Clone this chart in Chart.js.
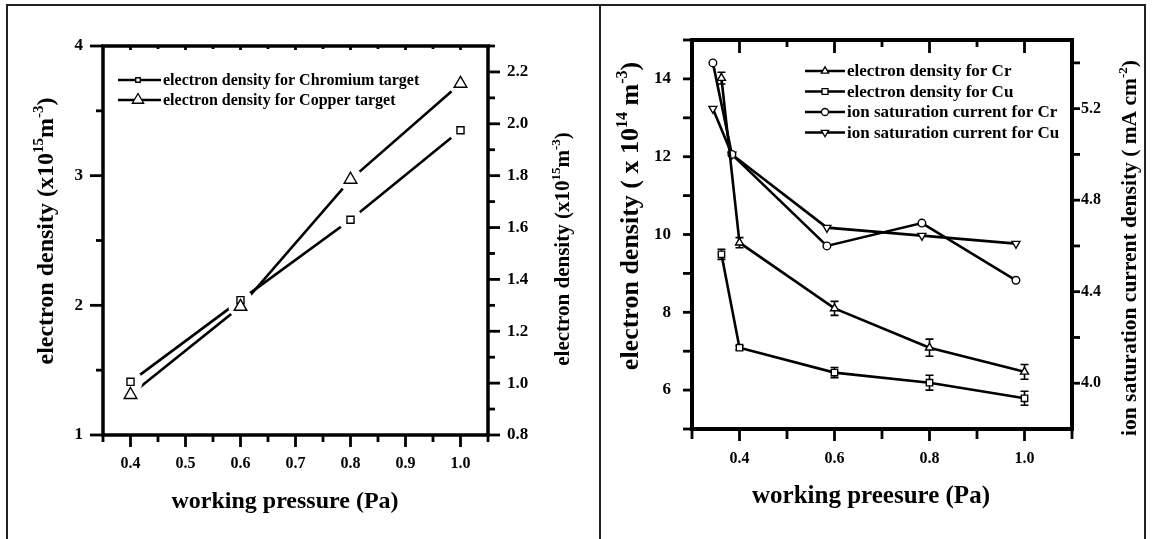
<!DOCTYPE html>
<html><head><meta charset="utf-8">
<script src="https://cdn.jsdelivr.net/npm/chart.js@4.4.0/dist/chart.umd.min.js"></script>
<style>
html,body{margin:0;padding:0;background:#fff;}
#wrap{position:relative;width:1154px;height:539px;overflow:hidden;background:#fff;}
#c1{position:absolute;left:0;top:0;width:600px;height:539px;}
#c2{position:absolute;left:600px;top:0;width:554px;height:539px;}
.ln{position:absolute;background:#222;}
</style></head><body>
<div id="wrap">
<canvas id="c1" width="600" height="539"></canvas>
<canvas id="c2" width="554" height="539"></canvas>
<div class="ln" style="left:6px;top:4px;width:1140px;height:2px;"></div>
<div class="ln" style="left:6px;top:4px;width:2px;height:535px;"></div>
<div class="ln" style="left:599px;top:4px;width:2px;height:535px;"></div>
<div class="ln" style="left:1144px;top:4px;width:2px;height:535px;"></div>
</div>
<script>
const FONT = "'Liberation Serif','Times New Roman',serif";

// ---------- Left panel data ----------
const pressureL = [0.4, 0.6, 0.8, 1.0];
const densityChromiumL = [1.41, 2.04, 2.66, 3.35];
const densityCopperL = [1.31, 1.99, 2.97, 3.71];
const xTickLabelsL = ['0.4','0.5','0.6','0.7','0.8','0.9','1.0'];
const yTickLabelsL = ['1','2','3','4'];
const y2TickLabelsL = ['0.8','1.0','1.2','1.4','1.6','1.8','2.0','2.2'];
const legendLabelsL = ['electron density for Chromium target','electron density for Copper target'];

// ---------- Right panel data ----------
const pressureDensityR = [0.362, 0.4, 0.6, 0.8, 1.0];
const densityCrR = [14.02, 9.79, 8.10, 7.09, 6.47];
const errorCrR = [0.15, 0.13, 0.18, 0.22, 0.19];
const densityCuR = [9.49, 7.09, 6.45, 6.19, 5.79];
const errorCuR = [0.13, 0.05, 0.13, 0.19, 0.18];
const pressureIonR = [0.344, 0.384, 0.584, 0.784, 0.982];
const ionCurrentCrR = [5.40, 5.00, 4.60, 4.70, 4.45];
const ionCurrentCuR = [5.20, 5.00, 4.68, 4.645, 4.61];
const xTickLabelsR = ['0.4','0.6','0.8','1.0'];
const yTickLabelsR = ['6','8','10','12','14'];
const y2TickLabelsR = ['4.0','4.4','4.8','5.2'];
const legendLabelsR = ['electron density for Cr','electron density for Cu','ion saturation current for Cr','ion saturation current for Cu'];

// ---------- helpers ----------
const range = (a, b, s) => { const o = []; for (let i = 0; a + i * s <= b + 1e-9; i++) o.push(Math.round((a + i * s) * 1000) / 1000); return o; };
const labelFor = labels => v => { const l = labels.find(t => Math.abs(parseFloat(t) - v) < 1e-6); return l === undefined ? '' : l; };

function axis(pos, min, max, tickMin, tickMax, step, labels, fontSize, padding, size) {
  return {
    type: 'linear', position: pos, min, max,
    afterBuildTicks: s => { s.ticks = range(tickMin, tickMax, step).map(v => ({ value: v })); },
    afterFit: s => { if (pos === 'bottom' || pos === 'top') s.height = size; else s.width = size; },
    grid: { display: false, drawTicks: false, tickLength: 0 },
    border: { display: false },
    ticks: { autoSkip: false, maxRotation: 0, minRotation: 0, padding, color: '#000',
      font: { family: FONT, size: fontSize, weight: 'bold', lineHeight: 1 },
      callback: labelFor(labels) },
    title: { display: false }
  };
}

function drawMarker(ctx, style, x, y, r, lw) {
  ctx.save();
  ctx.beginPath();
  if (style === 'rect') { const h = r * Math.SQRT1_2; ctx.rect(x - h, y - h, 2 * h, 2 * h); }
  else if (style === 'circle') { ctx.arc(x, y, r, 0, Math.PI * 2); }
  else {
    const rot = style === 'down' ? Math.PI : 0;
    for (let k = 0; k < 3; k++) {
      const a = rot + k * 2 * Math.PI / 3;
      const px = x + Math.sin(a) * r, py = y - Math.cos(a) * r;
      if (k === 0) ctx.moveTo(px, py); else ctx.lineTo(px, py);
    }
    ctx.closePath();
  }
  ctx.fillStyle = '#fff'; ctx.fill();
  ctx.lineWidth = lw; ctx.strokeStyle = '#000'; ctx.stroke();
  ctx.restore();
}

function parseRich(str) {
  const segs = []; const re = /\^\{([^}]*)\}/g; let last = 0, m;
  while ((m = re.exec(str))) { if (m.index > last) segs.push({ t: str.slice(last, m.index) }); segs.push({ t: m[1], sup: true }); last = re.lastIndex; }
  if (last < str.length) segs.push({ t: str.slice(last) });
  return segs;
}

function drawRich(ctx, t) {
  const segs = parseRich(t.text);
  ctx.save();
  ctx.translate(t.x, t.y); ctx.rotate(t.rot || 0);
  const big = `bold ${t.size}px ${FONT}`, small = `bold ${Math.round(t.size * 0.62)}px ${FONT}`;
  const widths = segs.map(s => { ctx.font = s.sup ? small : big; return ctx.measureText(s.t).width; });
  let x = -widths.reduce((a, b) => a + b, 0) / 2;
  ctx.fillStyle = '#000'; ctx.textAlign = 'left'; ctx.textBaseline = 'alphabetic';
  segs.forEach((s, i) => { ctx.font = s.sup ? small : big; ctx.fillText(s.t, x, t.size * 0.33 - (s.sup ? t.size * 0.42 : 0)); x += widths[i]; });
  ctx.restore();
}

const decor = {
  id: 'decor',
  beforeDatasetsDraw(chart, args, o) {
    const ctx = chart.ctx;
    (o.errors || []).forEach(e => {
      const meta = chart.getDatasetMeta(e.dataset);
      const ys = chart.scales[meta.yAxisID];
      const vals = chart.data.datasets[e.dataset].data;
      ctx.save(); ctx.strokeStyle = '#000'; ctx.lineWidth = 1.6;
      meta.data.forEach((pt, i) => {
        const v = vals[i].y, er = e.err[i];
        const y1 = ys.getPixelForValue(v + er), y2 = ys.getPixelForValue(v - er);
        ctx.beginPath();
        ctx.moveTo(pt.x, y1); ctx.lineTo(pt.x, y2);
        ctx.moveTo(pt.x - 4, y1); ctx.lineTo(pt.x + 4, y1);
        ctx.moveTo(pt.x - 4, y2); ctx.lineTo(pt.x + 4, y2);
        ctx.stroke();
      });
      ctx.restore();
    });
  },
  afterDatasetsDraw(chart, args, o) {
    const ctx = chart.ctx, ca = chart.chartArea;
    if (o.halo) {
      ctx.save(); ctx.fillStyle = '#fff';
      chart.data.datasets.forEach((d, i) => chart.getDatasetMeta(i).data.forEach(pt => { ctx.beginPath(); ctx.arc(pt.x, pt.y, o.halo, 0, Math.PI * 2); ctx.fill(); }));
      ctx.restore();
      chart.data.datasets.forEach((d, i) => chart.getDatasetMeta(i).data.forEach(pt => pt.draw(ctx, ca)));
    }
    // frame
    ctx.save();
    ctx.strokeStyle = '#000'; ctx.lineWidth = o.axisWidth; ctx.lineJoin = 'miter'; ctx.lineCap = 'square';
    ctx.strokeRect(ca.left, ca.top, ca.right - ca.left, ca.bottom - ca.top);
    ctx.lineWidth = o.tickWidth; ctx.lineCap = 'butt';
    o.ticks.forEach(spec => {
      const sc = chart.scales[spec.scale];
      sc.ticks.forEach(tk => {
        const major = tk.label !== '' && tk.label !== undefined;
        const len = major ? spec.major : spec.minor;
        if (!len) return;
        const p = sc.getPixelForValue(tk.value);
        ctx.beginPath();
        if (spec.edge === 'bottom' || spec.edge === 'top') {
          const y0 = spec.edge === 'bottom' ? ca.bottom : ca.top;
          ctx.moveTo(p, y0); ctx.lineTo(p, y0 + spec.dir * len);
        } else {
          const x0 = spec.edge === 'left' ? ca.left : ca.right;
          ctx.moveTo(x0, p); ctx.lineTo(x0 + spec.dir * len, p);
        }
        ctx.stroke();
      });
    });
    ctx.restore();
    // titles
    (o.titles || []).forEach(t => drawRich(ctx, t));
    // legend
    const lg = o.legend;
    if (lg) {
      chart.data.datasets.forEach((d, i) => {
        const y = lg.y0 + i * lg.dy;
        ctx.save();
        ctx.strokeStyle = '#000'; ctx.lineWidth = 2.5;
        ctx.beginPath(); ctx.moveTo(lg.x0, y); ctx.lineTo(lg.x1, y); ctx.stroke();
        ctx.restore();
        drawMarker(ctx, lg.markers[i], lg.xm, y, lg.radii[i], 1.3);
        ctx.save();
        ctx.fillStyle = '#000'; ctx.font = `bold ${lg.size}px ${FONT}`; ctx.textBaseline = 'middle'; ctx.textAlign = 'left';
        ctx.fillText(d.label, lg.xt, y + 1);
        ctx.restore();
      });
    }
  }
};

const lineBase = { borderColor: '#000', borderWidth: 2.6, tension: 0, fill: false,
  pointBackgroundColor: '#fff', pointBorderColor: '#000', pointBorderWidth: 1.4 };

// ---------- Left chart ----------
new Chart(document.getElementById('c1'), {
  type: 'line',
  data: { datasets: [
    Object.assign({}, lineBase, { label: legendLabelsL[0], data: pressureL.map((x, i) => ({ x, y: densityChromiumL[i] })),
      pointStyle: 'rect', pointRadius: 5, xAxisID: 'x', yAxisID: 'y' }),
    Object.assign({}, lineBase, { label: legendLabelsL[1], data: pressureL.map((x, i) => ({ x, y: densityCopperL[i] })),
      pointStyle: 'triangle', pointRadius: 7.3, xAxisID: 'x', yAxisID: 'y' })
  ] },
  options: {
    responsive: false, animation: false, events: [],
    layout: { padding: { top: 46, left: 0, right: 0, bottom: 0 } },
    scales: {
      x: axis('bottom', 0.35, 1.05, 0.35, 1.05, 0.05, xTickLabelsL, 16, 21, 104),
      y: axis('left', 1, 4, 1, 4, 0.5, yTickLabelsL, 17, 20, 103),
      y2: axis('right', 0.8, 2.3, 0.8, 2.3, 0.1, y2TickLabelsL, 17, 19, 112)
    },
    plugins: {
      legend: { display: false }, tooltip: { enabled: false },
      decor: {
        halo: 12, axisWidth: 3.5, tickWidth: 2.8,
        ticks: [
          { scale: 'x', edge: 'bottom', dir: 1, major: 12, minor: 7 },
          { scale: 'x', edge: 'top', dir: 1, major: 4, minor: 3 },
          { scale: 'y', edge: 'left', dir: -1, major: 13, minor: 7 },
          { scale: 'y2', edge: 'right', dir: 1, major: 12, minor: 7 }
        ],
        titles: [
          { text: 'working pressure (Pa)', x: 285, y: 500, size: 24 },
          { text: 'electron density (x10^{15}m^{-3})', x: 45, y: 231, size: 24, rot: -Math.PI / 2 },
          { text: 'electron density (x10^{15}m^{-3})', x: 562, y: 249, size: 21, rot: -Math.PI / 2 }
        ],
        legend: { x0: 118, x1: 161, xm: 138, xt: 163, y0: 80, dy: 20, size: 16,
          markers: ['rect', 'triangle'], radii: [3.2, 6.5] }
      }
    }
  },
  plugins: [decor]
});

// ---------- Right chart ----------
new Chart(document.getElementById('c2'), {
  type: 'line',
  data: { datasets: [
    Object.assign({}, lineBase, { label: legendLabelsR[0], data: pressureDensityR.map((x, i) => ({ x, y: densityCrR[i] })),
      pointStyle: 'triangle', pointRadius: 4.6, xAxisID: 'x', yAxisID: 'y' }),
    Object.assign({}, lineBase, { label: legendLabelsR[1], data: pressureDensityR.map((x, i) => ({ x, y: densityCuR[i] })),
      pointStyle: 'rect', pointRadius: 4.5, xAxisID: 'x', yAxisID: 'y' }),
    Object.assign({}, lineBase, { label: legendLabelsR[2], data: pressureIonR.map((x, i) => ({ x, y: ionCurrentCrR[i] })),
      pointStyle: 'circle', pointRadius: 3.8, xAxisID: 'x', yAxisID: 'y2' }),
    Object.assign({}, lineBase, { label: legendLabelsR[3], data: pressureIonR.map((x, i) => ({ x, y: ionCurrentCuR[i] })),
      pointStyle: 'triangle', pointRotation: 180, pointRadius: 4.6, xAxisID: 'x', yAxisID: 'y2' })
  ] },
  options: {
    responsive: false, animation: false, events: [],
    layout: { padding: { top: 40, left: 0, right: 0, bottom: 0 } },
    scales: {
      x: axis('bottom', 0.3, 1.1, 0.3, 1.1, 0.1, xTickLabelsR, 16, 22, 110),
      y: axis('left', 5, 15, 5, 15, 1, yTickLabelsR, 17, 21, 92),
      y2: axis('right', 3.8, 5.5, 4.0, 5.4, 0.2, y2TickLabelsR, 16, 9, 82)
    },
    plugins: {
      legend: { display: false }, tooltip: { enabled: false },
      decor: {
        halo: 0, axisWidth: 4, tickWidth: 2.8,
        errors: [ { dataset: 0, err: errorCrR }, { dataset: 1, err: errorCuR } ],
        ticks: [
          { scale: 'x', edge: 'bottom', dir: 1, major: 12, minor: 10 },
          { scale: 'x', edge: 'top', dir: 1, major: 13, minor: 7 },
          { scale: 'y', edge: 'left', dir: -1, major: 9, minor: 9 },
          { scale: 'y2', edge: 'right', dir: 1, major: 8, minor: 8 }
        ],
        titles: [
          { text: 'working preesure (Pa)', x: 271, y: 495, size: 25 },
          { text: 'electron density ( x 10^{14} m^{-3})', x: 29, y: 216, size: 26, rot: -Math.PI / 2 },
          { text: 'ion saturation current density ( mA cm^{-2})', x: 529, y: 248, size: 21.5, rot: -Math.PI / 2 }
        ],
        legend: { x0: 205, x1: 245, xm: 225, xt: 247, y0: 71, dy: 20.5, size: 17,
          markers: ['triangle', 'rect', 'circle', 'down'], radii: [4.2, 4.2, 3.5, 4.2] }
      }
    }
  },
  plugins: [decor]
});
</script>
</body></html>
